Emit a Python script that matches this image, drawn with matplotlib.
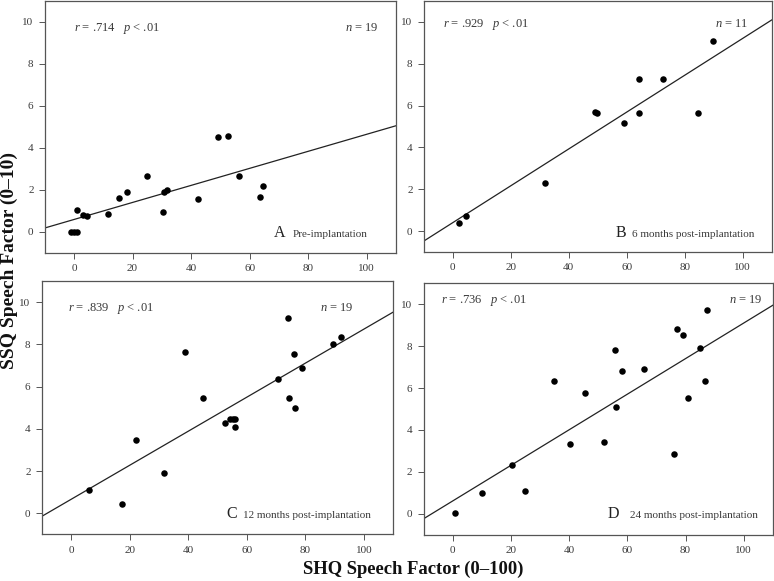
import numpy as np
import matplotlib
matplotlib.use("Agg")
import matplotlib.pyplot as plt

plt.rcParams['font.family'] = ['Liberation Serif', 'DejaVu Serif']
plt.rcParams['mathtext.fontset'] = 'custom'
plt.rcParams['mathtext.it'] = 'Liberation Serif:italic'
plt.rcParams['mathtext.rm'] = 'Liberation Serif'

# Panel A: Pre-implantation
a_x = [-1, 0, 0.9, 0.9, 3, 4.3, 11.5, 15.5, 18.1, 24.8, 30.4, 30.8, 31.9, 42.5, 49.1, 52.5, 56.3, 63.6, 64.7]
a_y = [0, 0, 0, 1.03, 0.82, 0.75, 0.85, 1.62, 1.92, 2.65, 0.93, 1.92, 2.0, 1.57, 4.52, 4.55, 2.65, 1.65, 2.17]
# Panel B: 6 months
b_x = [2.3, 4.6, 31.8, 49.2, 49.8, 59.2, 64.1, 64.3, 72.5, 84.7, 89.7]
b_y = [0.41, 0.72, 2.30, 5.71, 5.63, 5.17, 7.27, 5.63, 7.27, 5.63, 9.09]
# Panel C: 12 months
c_x = [6.1, 17.3, 22.3, 31.6, 39.0, 45.1, 52.7, 54.2, 55.2, 56.1, 56.1, 70.5, 74.0, 74.4, 76.0, 76.6, 78.9, 89.5, 92.2]
c_y = [1.11, 0.46, 3.46, 1.91, 7.65, 5.47, 4.28, 4.47, 4.47, 4.47, 4.09, 6.35, 9.27, 5.47, 7.55, 5.01, 6.87, 8.01, 8.36]
# Panel D: 24 months
d_x = [0.7, 10.1, 20.5, 24.7, 34.8, 40.2, 45.5, 52.0, 55.9, 56.1, 58.2, 65.9, 75.9, 77.0, 79.2, 81.0, 85.0, 86.6, 87.5]
d_y = [0.02, 1.0, 2.31, 1.10, 6.32, 3.31, 5.76, 3.42, 7.83, 5.11, 6.82, 6.93, 2.85, 8.82, 8.54, 5.53, 7.93, 6.32, 9.73]

letters = ["A", "B", "C", "D"]
titles = ["Pre-implantation", "6 months post-implantation",
          "12 months post-implantation", "24 months post-implantation"]
r_vals = [".714", ".929", ".839", ".736"]
n_vals = ["19", "11", "19", "19"]
xticks = [0, 20, 40, 60, 80, 100]
yticks = [0, 2, 4, 6, 8, 10]

W, H = 774, 581
fig = plt.figure(figsize=(W / 100, H / 100), dpi=100)

# (left, top, right, bottom) in pixels
boxes = [(44.7, 1, 396, 253), (423.7, 1, 771.7, 252),
         (41.7, 281.2, 393.3, 534.4), (423.6, 283.4, 772.8, 534.6)]
# text placement (data coords)
r_pos = [(0, 9.59), (-3.2, 9.74), (-1.1, 9.6), (-4.1, 10.08)]
n_pos = [(104, 9.59), (102, 9.74), (96.5, 9.6), (106.5, 10.08)]
let_pos = [(68.3, -0.24), (56, -0.27), (53, -0.24), (53.3, -0.22)]
tit_pos = [(74.7, -0.24), (61.7, -0.27), (58.8, -0.24), (61, -0.22)]

data = [(a_x, a_y), (b_x, b_y), (c_x, c_y), (d_x, d_y)]
gray = '#3a3a3a'
for i, ((l, t, r, b), (xs, ys)) in enumerate(zip(boxes, data)):
    ax = fig.add_axes([l / W, 1 - b / H, (r - l) / W, (b - t) / H])
    ax.set_xlim(-10, 110)
    ax.set_ylim(-1, 11)
    ax.scatter(xs, ys, s=22, color='black', zorder=3, linewidths=0)
    k, c0 = np.polyfit(xs, ys, 1)
    xl = np.array([-10, 110])
    ax.plot(xl, k * xl + c0, color='#222222', lw=0.9)
    ax.set_xticks(xticks)
    ax.set_yticks(yticks)
    ax.tick_params(direction='out', length=4, width=0.7, colors='#555555',
                   labelsize=8, labelcolor=gray, pad=4)
    for sp in ax.spines.values():
        sp.set_color('#555555')
        sp.set_linewidth(0.9)
    ax.text(r_pos[i][0], r_pos[i][1], "$r$ = " + r_vals[i] + "   $p$ < .01",
            fontsize=9, color=gray, ha='left', va='baseline')
    ax.text(n_pos[i][0], n_pos[i][1], "$n$ = " + n_vals[i],
            fontsize=9, color=gray, ha='right', va='baseline')
    ax.text(let_pos[i][0], let_pos[i][1], letters[i], fontsize=11.5,
            color='#222222', ha='left', va='baseline')
    ax.text(tit_pos[i][0], tit_pos[i][1], titles[i], fontsize=8,
            color=gray, ha='left', va='baseline')

fig.text(9 / W, 1 - 260 / H, "SSQ Speech Factor (0\u201310)", rotation=90,
         fontsize=14, fontweight='bold', ha='center', va='center', color='#111111')
fig.text(413 / W, 1 - 569 / H, "SHQ Speech Factor (0\u2013100)",
         fontsize=13.4, fontweight='bold', ha='center', va='center', color='#111111')

fig.savefig("out.png", dpi=100)
